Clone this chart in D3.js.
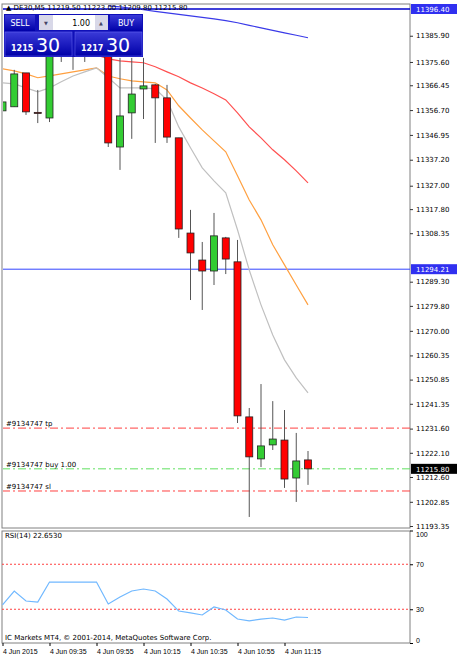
<!DOCTYPE html>
<html><head><meta charset="utf-8">
<script src="https://cdn.jsdelivr.net/npm/d3@7/dist/d3.min.js"></script>
<style>body{margin:0;background:#fff}svg{display:block;font-family:Tahoma,"DejaVu Sans",sans-serif}</style>
</head><body><svg id="c" width="459" height="656"></svg>
<script>
const bars=[ // open, high, low, close
[11356.4,11361.0,11350.1,11359.9],[11358.0,11372.5,11358.0,11370.9],[11371.3,11371.3,11354.8,11356.0],
[11355.8,11364.6,11351.6,11355.4],[11353.6,11381.1,11352.0,11381.1],[11377.9,11382.3,11375.6,11380.3],
[11381.1,11383.5,11372.5,11378.6],[11378.4,11384.2,11375.6,11382.3],[11378.4,11381.5,11377.6,11380.3],
[11380.3,11381.5,11342.2,11343.8],[11342.2,11377.2,11333.2,11354.4],[11355.6,11377.2,11345.4,11363.0],
[11365.0,11377.2,11353.2,11366.2],[11366.6,11367.0,11343.8,11361.5],[11361.5,11366.6,11343.8,11346.1],
[11345.8,11345.8,11306.5,11310.0],[11308.4,11317.5,11282.1,11300.6],[11297.8,11304.9,11278.2,11293.5],
[11293.5,11316.3,11288.0,11307.3],[11306.5,11306.9,11292.3,11298.2],[11297.1,11305.7,11233.8,11236.6],
[11236.2,11239.7,11196.9,11220.5],[11219.7,11249.1,11216.5,11224.8],[11225.2,11242.4,11223.2,11227.5],
[11227.1,11238.9,11208.3,11211.8],[11212.2,11229.9,11202.8,11218.9],[11219.3,11222.8,11209.5,11215.8]];
const maRed=[null,null,null,null,11382.7,11381.9,11380.8,11379.6,11378.4,11376.8,11376.0,11375.6,11375.3,11373.7,11371.7,11369.8,11367.4,11365.4,11363.1,11360.7,11355.6,11350.1,11345.8,11341.1,11337.2,11332.8,11328.1];
const maOrange=[11372.9,11372.1,11370.9,11369.4,11370.1,11370.9,11371.7,11372.5,11373.3,11370.1,11369.0,11368.2,11367.8,11367.4,11364.6,11358.4,11353.6,11348.9,11344.6,11340.3,11330.9,11321.4,11313.6,11303.8,11295.9,11288.0,11280.2];
const maGray=[11367.4,11367.0,11365.4,11363.9,11365.4,11367.8,11370.1,11371.7,11373.3,11369.4,11365.4,11365.4,11365.4,11365.0,11360.7,11350.1,11341.9,11334.0,11328.9,11324.2,11309.7,11293.9,11280.2,11268.4,11258.6,11251.5,11245.6];
const maBlue=[null,null,null,null,null,null,null,null,null,11397.6,11397.2,11396.7,11396.1,11395.5,11394.9,11394.3,11393.7,11393.1,11392.5,11391.8,11391.0,11390.0,11389.0,11388.0,11387.0,11386.1,11385.1];
const rsi=[33.8,46.2,37.3,36.4,54.2,54.2,54.2,54.2,54.2,34.7,40.9,46.2,48.0,46.2,39.1,28.4,26.7,24.9,32.0,29.3,21.3,19.6,21.3,22.2,20.4,23.1,22.65];
const priceTicks=[11385.90,11375.60,11366.45,11356.70,11346.95,11337.20,11327.00,11317.80,11308.35,11289.30,11279.80,11270.00,11260.35,11250.85,11241.35,11231.60,11222.10,11212.60,11202.85,11193.35];
const rsiTicks=[100,70,30,0];
const timeLabels=["4 Jun 2015","4 Jun 09:35","4 Jun 09:55","4 Jun 10:15","4 Jun 10:35","4 Jun 10:55","4 Jun 11:15"];
const levels={hi:11396.40,line:11294.21,tp:11231.8,buy:11215.80,sl:11207.1};

const svg=d3.select("#c");
const L=2,R=410,T=4,MB=528,RT=531,RB=643;
const x=d3.scaleLinear().domain([0,1]).range([2.5,14.25]);
const y=d3.scaleLinear().domain([11193.35,11396.40]).range([526,9]);
const yr=d3.scaleLinear().domain([0,100]).range([643,530.5]);
svg.append("rect").attr("x",L).attr("y",T).attr("width",R-L).attr("height",MB-T).attr("fill","#fff").attr("stroke","#808080");
svg.append("rect").attr("x",L).attr("y",RT).attr("width",R-L).attr("height",RB-RT).attr("fill","#fff").attr("stroke","#808080");
const g=svg.append("g");
g.append("defs").append("clipPath").attr("id","cp").append("rect").attr("x",L+1).attr("y",T+1).attr("width",R-L-1).attr("height",MB-T-1);
const m=g.append("g").attr("clip-path","url(#cp)");
m.append("line").attr("x1",L).attr("x2",R).attr("y1",y(levels.hi)).attr("y2",y(levels.hi)).attr("stroke","#0000cc").attr("stroke-width",1.5);
m.append("line").attr("x1",L).attr("x2",R).attr("y1",y(levels.line)).attr("y2",y(levels.line)).attr("stroke","#3344ff");
[[levels.tp,"#ff4040"],[levels.buy,"#60e060"],[levels.sl,"#ff4040"]].forEach(([v,c])=>m.append("line").attr("x1",L).attr("x2",R).attr("y1",y(v)).attr("y2",y(v)).attr("stroke",c).attr("stroke-dasharray","8,3,2,3"));
function ma(arr,c){m.append("path").datum(arr.map((v,i)=>[i,v])).attr("fill","none").attr("stroke",c).attr("stroke-width",1.2)
 .attr("d",d3.line().defined(d=>d[1]!=null).x(d=>x(d[0])).y(d=>y(d[1])));}
ma(maBlue,"#3a3ae8");ma(maRed,"#ff5050");ma(maOrange,"#ffa040");ma(maGray,"#c0c0c0");
bars.forEach((b,i)=>{const [o,h,l,c]=b;const cx=x(i);
 m.append("line").attr("x1",cx).attr("x2",cx).attr("y1",y(h)).attr("y2",y(l)).attr("stroke","#555");
 const top=y(Math.max(o,c)),bot=y(Math.min(o,c));
 m.append("rect").attr("x",cx-3.5).attr("y",top).attr("width",7).attr("height",Math.max(1,bot-top)).attr("fill",c>=o?"#33cc33":"#ff0000").attr("stroke","#222").attr("stroke-width",0.8);
});
const fs="7px";
m.append("text").attr("x",6).attr("y",y(levels.tp)-2).text("#9134747 tp").attr("font-size",fs);
m.append("text").attr("x",6).attr("y",y(levels.buy)-2).text("#9134747 buy 1.00").attr("font-size",fs);
m.append("text").attr("x",6).attr("y",y(levels.sl)-2).text("#9134747 sl").attr("font-size",fs);
m.append("text").attr("x",6).attr("y",10).text("▲ DE30,M5  11219.50 11223.00 11209.80 11215.80").attr("font-size",fs);
const p=m.append("g");
const gr=p.append("defs").append("linearGradient").attr("id","bg").attr("x1",0).attr("x2",0).attr("y1",0).attr("y2",1);
gr.append("stop").attr("offset",0).attr("stop-color","#3a3ad8");gr.append("stop").attr("offset",1).attr("stop-color","#0000a8");
p.append("rect").attr("x",4).attr("y",14).attr("width",139).attr("height",43).attr("fill","#1010b8");
p.append("rect").attr("x",5).attr("y",15).attr("width",30).attr("height",16).attr("fill","url(#bg)");
p.append("text").attr("x",20).attr("y",26).attr("text-anchor","middle").attr("fill","#fff").attr("font-size","8px").text("SELL");
p.append("rect").attr("x",39).attr("y",15).attr("width",14).attr("height",15).attr("fill","#d8d8e8");
p.append("rect").attr("x",53).attr("y",15).attr("width",42).attr("height",15).attr("fill","#fff");
p.append("rect").attr("x",95).attr("y",15).attr("width",13).attr("height",15).attr("fill","#d8d8e8");
p.append("text").attr("x",46).attr("y",25).attr("text-anchor","middle").attr("font-size","5px").attr("fill","#446").text("▼");
p.append("text").attr("x",101).attr("y",25).attr("text-anchor","middle").attr("font-size","5px").attr("fill","#446").text("▲");
p.append("text").attr("x",90).attr("y",26).attr("text-anchor","end").attr("font-size","8px").text("1.00");
p.append("rect").attr("x",110).attr("y",15).attr("width",32).attr("height",16).attr("fill","url(#bg)");
p.append("text").attr("x",126).attr("y",26).attr("text-anchor","middle").attr("fill","#fff").attr("font-size","8px").text("BUY");
[[5,"1215"],[75,"1217"]].forEach(([bx,t])=>{
 p.append("rect").attr("x",bx).attr("y",32).attr("width",67).attr("height",24).attr("fill","url(#bg)").attr("stroke","#6a6af0").attr("stroke-width",0.5);
 p.append("text").attr("x",bx+6).attr("y",51).attr("fill","#fff").attr("font-size","8px").attr("font-weight","bold").text(t);
 p.append("text").attr("x",bx+31).attr("y",52).attr("fill","#fff").attr("font-size","19px").text("30");
});
const ax=svg.append("g").attr("transform",`translate(${R},0)`).call(d3.axisRight(y).tickValues(priceTicks).tickSize(3).tickFormat(d3.format(".2f")));
ax.select(".domain").remove();ax.selectAll("text").attr("font-size","7px").attr("font-family","Tahoma,'DejaVu Sans',sans-serif");
ax.selectAll("line").attr("stroke","#333");
function box(v,bg){const yy=y(v);svg.append("rect").attr("x",R+1).attr("y",yy-5).attr("width",46).attr("height",10).attr("fill",bg);
 svg.append("text").attr("x",R+6).attr("y",yy+3).attr("fill","#fff").attr("font-size","7px").text(v.toFixed(2));}
box(levels.hi,"#3030f0");box(levels.line,"#3030f0");box(levels.buy,"#000");
const r=svg.append("g");
[70,30].forEach(v=>r.append("line").attr("x1",L).attr("x2",R).attr("y1",yr(v)).attr("y2",yr(v)).attr("stroke","#ff4040").attr("stroke-dasharray","2,2"));
r.append("path").datum(rsi).attr("fill","none").attr("stroke","#70b8ff").attr("stroke-width",1.2).attr("d",d3.line().x((d,i)=>x(i)).y(d=>yr(d)));
r.append("text").attr("x",5).attr("y",538).attr("font-size","7px").text("RSI(14) 22.6530");
r.append("text").attr("x",5).attr("y",640).attr("font-size","7px").text("IC Markets MT4, © 2001-2014, MetaQuotes Software Corp.");
const ar=svg.append("g").attr("transform",`translate(${R},0)`).call(d3.axisRight(yr).tickValues(rsiTicks).tickSize(3));
ar.select(".domain").remove();ar.selectAll("text").attr("font-size","7px").attr("dy",d=>d==100?"0.9em":d==0?"-0.1em":"0.32em");
const at=svg.append("g").attr("transform",`translate(0,${RB})`).call(d3.axisBottom(x).tickValues(timeLabels.map((t,i)=>i*4)).tickSize(3).tickFormat((d,i)=>timeLabels[i]));
at.select(".domain").remove();at.selectAll("text").attr("font-size","7px").attr("text-anchor","start").attr("x",0);
</script></body></html>
